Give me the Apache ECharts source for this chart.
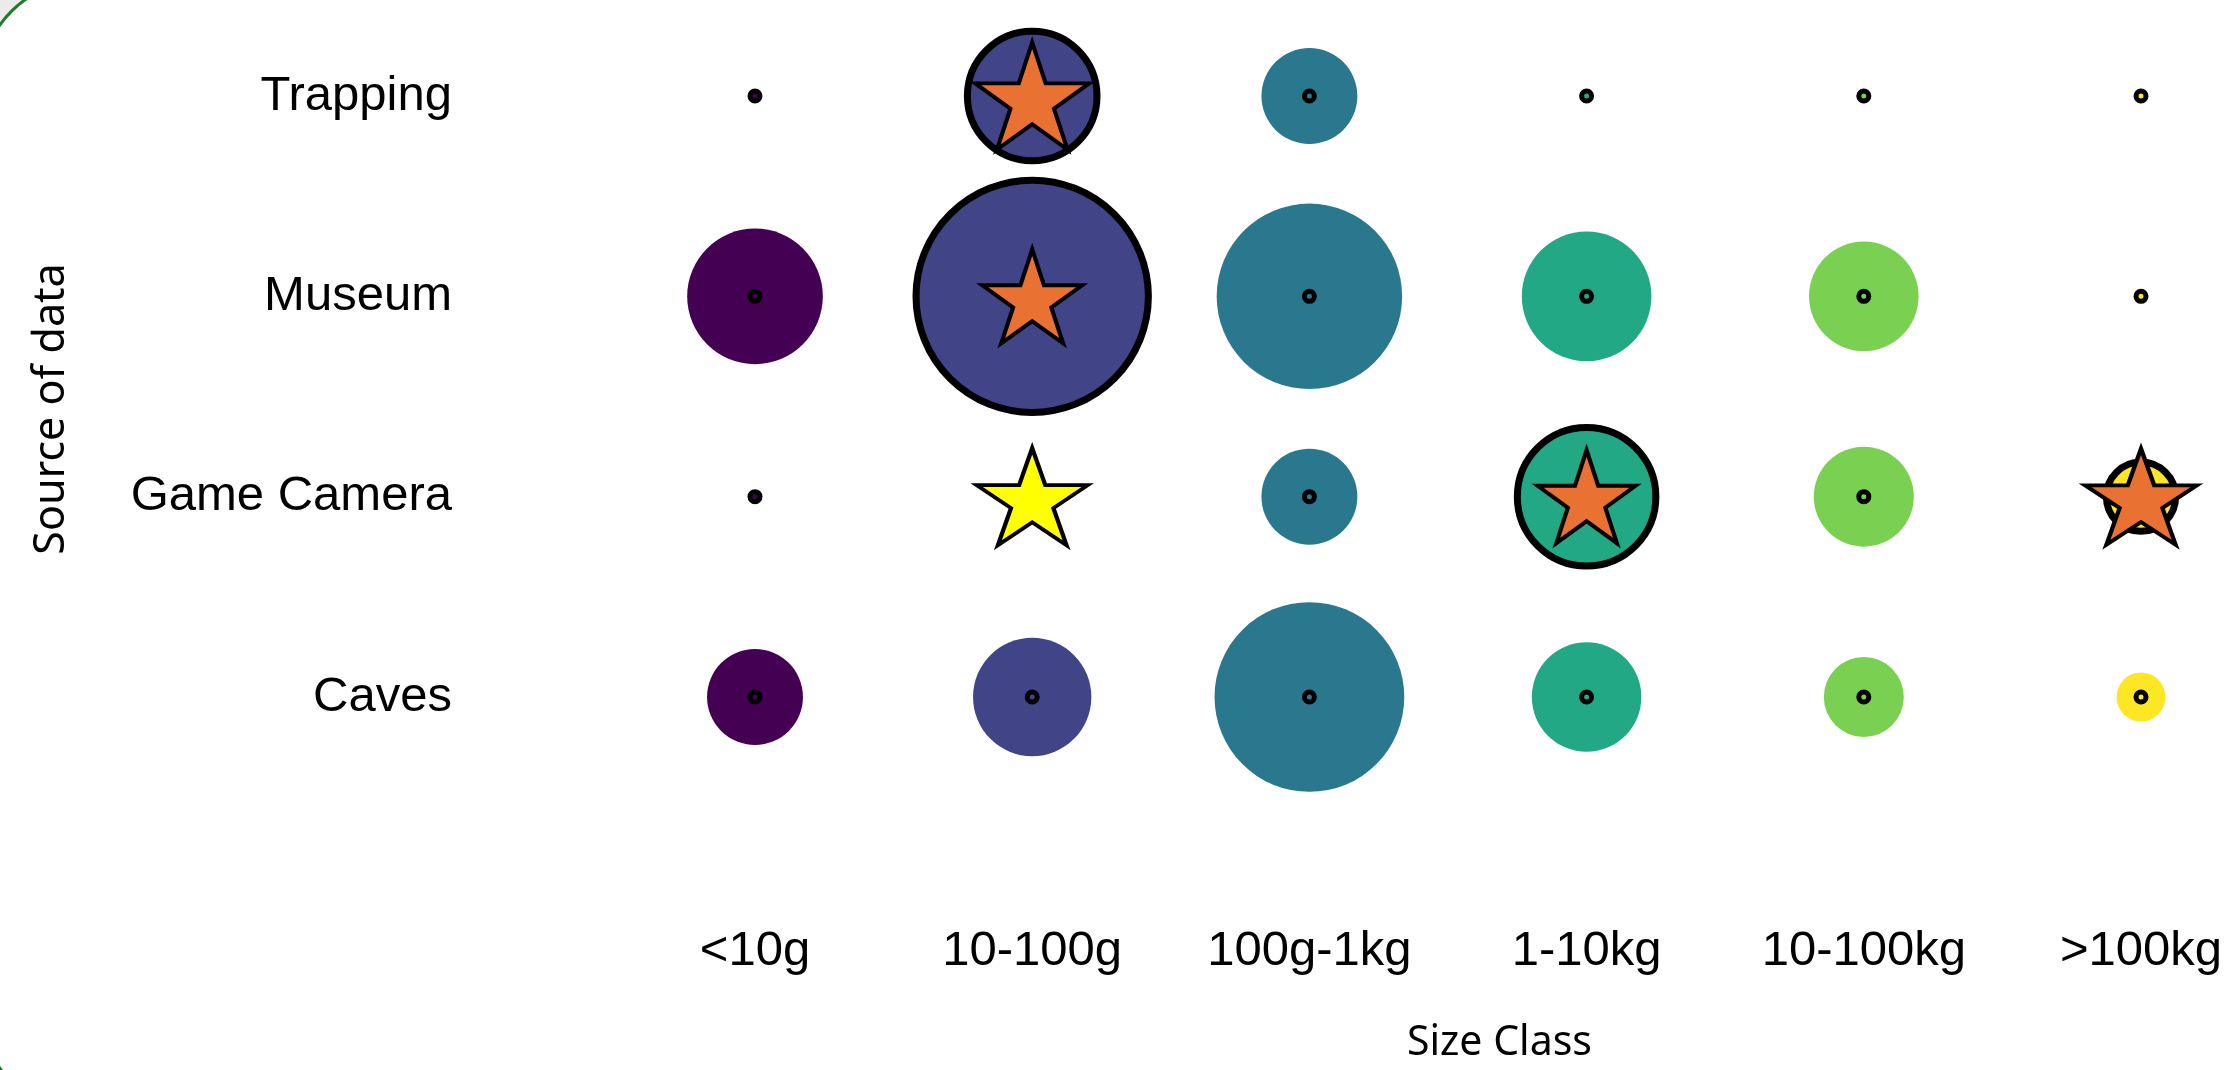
<!DOCTYPE html>
<html>
<head>
<meta charset="utf-8">
<script src="https://cdn.jsdelivr.net/npm/echarts@6/dist/echarts.min.js"></script>
<style>html,body{margin:0;padding:0;background:#fff}#c{width:2229px;height:1070px}</style>
</head>
<body>
<div id="c"></div>
<script>
// ---- data ----
const sizeClasses = ['<10g', '10-100g', '100g-1kg', '1-10kg', '10-100kg', '>100kg'];
const sources = ['Trapping', 'Museum', 'Game Camera', 'Caves'];
const trapping   = [0, 42, 23, 0, 0, 0];
const museum     = [46, 135, 86, 42, 30, 0];
const gameCamera = [0, 0, 23, 48, 25, 12];
const caves      = [23, 35, 90, 30, 16, 6];
const orangeStarCells = [['10-100g', 'Trapping'], ['10-100g', 'Museum'], ['1-10kg', 'Game Camera'], ['>100kg', 'Game Camera']];
const yellowStarCells = [['10-100g', 'Game Camera']];

// ---- styling ----
const palette = ['#440154', '#414487', '#2A788E', '#22A884', '#7AD151', '#FDE725'];
const orangeStarSizes = [[114, 107], [100, 94], [98, 93], [112, 96]];
const yellowStarSizes = [[111, 97]];
const rows = [trapping, museum, gameCamera, caves];
const isOrange = (c, s) => orangeStarCells.some(p => p[0] === c && p[1] === s);

function starPath() {
  const pts = [];
  for (let i = 0; i < 10; i++) {
    const a = (-90 + 36 * i) * Math.PI / 180;
    const r = i % 2 ? 38.2 : 100;
    pts.push((r * Math.cos(a)).toFixed(2) + ' ' + (r * Math.sin(a)).toFixed(2));
  }
  return 'path://M' + pts.join(' L') + ' Z';
}
const STAR = starPath();

const bubbleData = [];
const dotData = [];
sources.forEach((s, i) => {
  sizeClasses.forEach((c, j) => {
    const hl = isOrange(c, s);
    bubbleData.push({
      value: [c, s, rows[i][j]],
      itemStyle: { color: palette[j], borderColor: '#000', borderWidth: hl ? 7 : 0 }
    });
    dotData.push({ value: [c, s], itemStyle: { color: palette[j] } });
  });
});
const orangeData = orangeStarCells.map((p, k) => ({ value: p, symbolSize: orangeStarSizes[k] }));
const yellowData = yellowStarCells.map((p, k) => ({ value: p, symbolSize: yellowStarSizes[k] }));

const chart = echarts.init(document.getElementById('c'), null, { renderer: 'canvas' });
chart.setOption({
  backgroundColor: '#fff',
  animation: false,
  graphic: [
    { type: 'rect', z: -20, silent: true, shape: { x: 0, y: 0, width: 2229, height: 1070 }, style: { fill: '#EBEBEB' } },
    { type: 'rect', z: -10, silent: true, shape: { x: -20, y: -20, width: 2400, height: 1133, r: 107 }, style: { fill: '#fff', stroke: '#1E7A2E', lineWidth: 3 } },
    { type: 'text', z: 10, left: 1407, top: 1023, style: { text: 'Size Class', font: '41px "Noto Sans"', fill: '#000' } },
    { type: 'text', z: 10, x: 52, y: 409, rotation: Math.PI / 2, style: { text: 'Source of data', font: '43px "Noto Sans"', fill: '#000', align: 'center', verticalAlign: 'middle' } }
  ],
  grid: { left: 755, right: 88, top: 96, bottom: 373, containLabel: false, outerBoundsMode: 'none' },
  xAxis: {
    type: 'category', data: sizeClasses, boundaryGap: false,
    axisLine: { show: false }, axisTick: { show: false }, splitLine: { show: false },
    axisLabel: { margin: 230, fontSize: 49, fontFamily: 'Liberation Sans', color: '#000' }
  },
  yAxis: {
    type: 'category', data: sources, boundaryGap: false, inverse: true,
    axisLine: { show: false }, axisTick: { show: false }, splitLine: { show: false },
    axisLabel: { margin: 303, fontSize: 49, fontFamily: 'Liberation Sans', color: '#000', padding: [6, 0, 0, 0] }
  },
  series: [
    {
      type: 'scatter', clip: false, symbol: 'circle', z: 2,
      itemStyle: { opacity: 1 },
      symbolSize: v => (v[2] > 0 ? 20 * Math.sqrt(v[2]) : 0),
      data: bubbleData
    },
    {
      type: 'scatter', clip: false, symbol: 'circle', z: 3, symbolSize: 10,
      itemStyle: { borderColor: '#000', borderWidth: 5, opacity: 1 },
      data: dotData
    },
    {
      type: 'scatter', clip: false, symbol: STAR, z: 4,
      itemStyle: { color: '#E97132', borderColor: '#000', borderWidth: 4, opacity: 1 },
      data: orangeData
    },
    {
      type: 'scatter', clip: false, symbol: STAR, z: 4,
      itemStyle: { color: '#FFFF00', borderColor: '#000', borderWidth: 4, opacity: 1 },
      data: yellowData
    }
  ]
});
</script>
</body>
</html>
